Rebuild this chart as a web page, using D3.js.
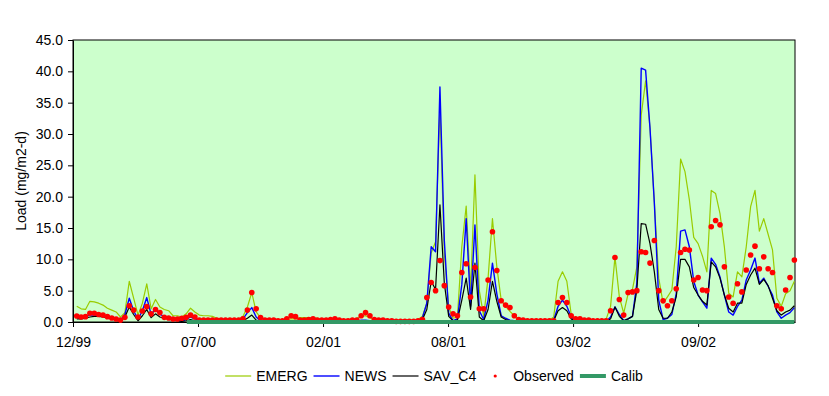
<!DOCTYPE html>
<html>
<head>
<meta charset="utf-8">
<script src="https://cdn.jsdelivr.net/npm/d3@7"></script>
<style>
  body { margin: 0; background: #fff; }
  text { font-family: "Liberation Sans", Arial, sans-serif; font-size: 14px; fill: #000; }
</style>
</head>
<body>
<div id="chart"></div>
<script>
// axis range and tick labels (mm/yy every 200 days)
let axisStart = "1999-12-31"
let axisDays = 1155
let tickDates = ["1999-12-31", "2000-07-18", "2001-02-03", "2001-08-22", "2002-03-10", "2002-09-26"]
let tickLabels = ["12/99", "07/00", "02/01", "08/01", "03/02", "09/02"]
let yTicks = [0, 5, 10, 15, 20, 25, 30, 35, 40, 45]

// weekly series, first week on this date
let firstWeek = "2000-01-06"

let emerg = [
  2.5, 2.1, 2.0, 3.3, 3.2, 3.0, 2.7, 2.2, 1.9, 1.6, 0.8, 1.5, 6.5, 3.8, 1.1, 3.0, 6.1, 2.1, 3.6, 2.4,
  2.0, 1.8, 1.0, 1.0, 0.8, 1.3, 2.2, 1.6, 1.1, 1.0, 1.0, 0.9, 0.6, 0.4, 0.4, 0.4, 0.4, 0.4, 0.9, 2.4,
  4.7, 1.6, 0.7, 0.5, 0.4, 0.4, 0.4, 0.4, 0.4, 0.5, 0.5, 0.7, 0.7, 0.7, 0.7, 0.6, 0.4, 0.4, 0.4, 0.4,
  0.4, 0.4, 0.4, 0.4, 0.6, 0.9, 1.0, 0.7, 0.4, 0.3, 0.3, 0.3, 0.3, 0.3, 0.3, 0.3, 0.3, 0.3, 0.4, 0.9,
  3.0, 11.0, 12.8, 34.4, 11.0, 2.4, 0.6, 0.8, 12.0, 18.5, 5.0, 23.5, 5.0, 0.9, 7.0, 16.5, 8.8, 3.5, 2.5, 1.7,
  1.0, 0.5, 0.3, 0.3, 0.3, 0.3, 0.3, 0.3, 0.3, 0.8, 6.5, 8.0, 6.5, 1.2, 0.3, 0.3, 0.3, 0.3, 0.3, 0.3,
  0.3, 0.5, 2.5, 10.4, 4.0, 1.4, 4.5, 5.2, 8.8, 33.0, 38.5, 31.0, 19.0, 7.0, 3.0, 4.0, 5.1, 12.0, 26.0, 24.0,
  19.5, 13.5, 12.5, 10.5, 8.0, 21.0, 20.5, 17.3, 12.0, 4.6, 4.0, 8.0, 7.2, 12.0, 18.4, 21.0, 14.5, 16.5, 14.0, 11.5,
  3.8, 2.5, 4.5, 5.0, 6.5
]

let news = [
  0.8, 0.8, 0.9, 1.1, 1.1, 1.1, 1.0, 0.9, 0.7, 0.5, 0.3, 1.2, 3.8, 1.8, 0.4, 1.8, 3.9, 1.2, 2.1, 1.2,
  0.9, 0.8, 0.5, 0.3, 0.2, 0.4, 0.8, 0.5, 0.3, 0.2, 0.2, 0.15, 0.1, 0.1, 0.1, 0.1, 0.1, 0.1, 0.5, 1.5,
  2.3, 0.8, 0.2, 0.1, 0.1, 0.1, 0.1, 0.1, 0.1, 0.1, 0.1, 0.1, 0.1, 0.1, 0.1, 0.1, 0.1, 0.1, 0.1, 0.1,
  0.1, 0.1, 0.1, 0.1, 0.1, 0.3, 0.3, 0.2, 0.1, 0.1, 0.1, 0.1, 0.1, 0.1, 0.1, 0.1, 0.1, 0.1, 0.1, 0.7,
  3.0, 12.0, 11.2, 37.5, 13.0, 1.4, 0.2, 0.5, 6.0, 16.5, 2.5, 15.5, 1.8, 0.4, 3.5, 9.4, 4.5, 1.0, 0.6, 0.3,
  0.2, 0.1, 0.1, 0.1, 0.1, 0.1, 0.1, 0.1, 0.1, 0.3, 2.5, 3.5, 2.5, 0.8, 0.2, 0.1, 0.1, 0.1, 0.1, 0.1,
  0.1, 0.1, 0.8, 2.4, 1.2, 0.2, 0.5, 0.9, 6.2, 40.5, 40.2, 31.0, 19.0, 3.5, 0.4, 0.6, 1.2, 4.5, 14.5, 14.7,
  12.0, 6.5, 4.3, 3.2, 2.2, 10.2, 9.2, 7.2, 4.3, 1.6, 1.1, 2.5, 3.5, 6.7, 8.3, 10.2, 6.2, 7.0, 5.7, 4.3,
  1.6, 0.6, 1.1, 1.5, 2.3
]

let savC4 = [
  0.5, 0.5, 0.6, 0.8, 0.9, 0.9, 0.8, 0.7, 0.5, 0.3, 0.1, 0.8, 2.4, 1.2, 0.2, 1.0, 2.0, 0.7, 1.3, 0.8,
  0.6, 0.5, 0.3, 0.2, 0.1, 0.2, 0.4, 0.2, 0.1, 0.1, 0.05, 0.05, 0.05, 0.05, 0.05, 0.05, 0.05, 0.05, 0.2, 0.6,
  1.1, 0.3, 0.05, 0.05, 0.05, 0.05, 0.05, 0.05, 0.05, 0.05, 0.05, 0.05, 0.05, 0.05, 0.05, 0.05, 0.05, 0.05, 0.05, 0.05,
  0.05, 0.05, 0.05, 0.05, 0.05, 0.05, 0.05, 0.05, 0.05, 0.05, 0.05, 0.05, 0.05, 0.05, 0.05, 0.05, 0.05, 0.05, 0.05, 0.4,
  2.0, 6.5, 5.2, 18.7, 6.2, 0.9, 0.2, 0.3, 3.5, 7.0, 2.0, 9.4, 0.8, 0.2, 2.0, 6.5, 3.3, 0.8, 0.4, 0.2,
  0.1, 0.05, 0.05, 0.05, 0.05, 0.05, 0.05, 0.05, 0.05, 0.2, 1.8, 2.3, 1.8, 0.5, 0.1, 0.05, 0.05, 0.05, 0.05, 0.05,
  0.05, 0.05, 0.5, 2.4, 0.9, 0.2, 0.5, 0.9, 5.1, 15.7, 15.6, 12.5, 8.0, 2.0, 0.6, 0.6, 1.6, 4.0, 10.0, 10.0,
  8.8, 5.5, 4.3, 3.3, 2.7, 9.6, 8.8, 7.0, 4.3, 2.2, 1.6, 3.0, 3.0, 6.0, 7.5, 8.6, 6.0, 6.8, 5.8, 3.8,
  1.8, 1.1, 1.6, 1.9, 2.6
]

let observed = [
  0.96, 0.8, 0.85, 1.4, 1.4, 1.2, 1.1, 0.85, 0.64, 0.48, 0.3, 0.74, 2.6, 1.9, 0.8, 1.75, 2.45, 1.3, 2.0, 1.5,
  0.74, 0.64, 0.48, 0.48, 0.6, 0.74, 1.1, 0.8, 0.3, 0.3, 0.3, 0.3, 0.3, 0.3, 0.3, 0.3, 0.3, 0.3, 0.5, 1.9,
  4.7, 2.1, 0.7, 0.3, 0.3, 0.3, 0.2, 0.2, 0.5, 1.0, 0.85, 0.3, 0.3, 0.4, 0.5, 0.3, 0.3, 0.3, 0.4, 0.5,
  0.3, 0.2, 0.2, 0.3, 0.3, 1.0, 1.5, 1.0, 0.4, 0.3, 0.3, 0.2, 0.2, 0.1, 0.1, 0.1, 0.1, 0.1, 0.2, 0.4,
  3.9, 6.3, 5.0, 9.8, 5.8, 2.4, 1.3, 1.0, 7.9, 9.3, 4.0, 8.7, 2.1, 2.1, 6.7, 14.4, 8.2, 3.4, 2.7, 2.3,
  1.0, 0.4, 0.3, 0.2, 0.2, 0.2, 0.2, 0.2, 0.2, 0.2, 3.1, 3.9, 3.1, 1.0, 0.5, 0.5, 0.3, 0.3, 0.2, 0.2,
  0.2, 0.2, 1.8, 10.3, 3.6, 1.1, 4.7, 4.8, 5.0, 11.2, 11.1, 9.4, 13.0, 5.0, 3.4, 2.6, 3.4, 5.3, 11.1, 11.6,
  11.5, 6.7, 7.1, 5.1, 5.0, 15.2, 16.2, 15.5, 8.8, 4.0, 3.0, 6.1, 4.8, 8.3, 10.7, 12.1, 8.5, 10.4, 8.5, 7.9,
  2.6, 2.1, 5.1, 7.1, 9.9
]

// calibration period, drawn at zero
let calibDates = ["2000-06-30", "2003-02-27"]
let calibValues = [0, 0]

let width = 829,
    height = 396,
    margin = { top: 40, right: 34, bottom: 74, left: 73 }

let parse = d3.timeParse("%Y-%m-%d")
let start = parse(axisStart)
let first = parse(firstWeek)
let weekDate = i => d3.timeDay.offset(first, 7 * i)

let svg = d3.select("#chart").append("svg")
  .attr("width", width)
  .attr("height", height)

let x = d3.scaleTime()
  .domain([start, d3.timeDay.offset(start, axisDays)])
  .range([margin.left, width - margin.right])

let y = d3.scaleLinear()
  .domain([0, 45])
  .range([height - margin.bottom, margin.top])

// plot area
svg.append("rect")
  .attr("x", margin.left)
  .attr("y", margin.top)
  .attr("width", width - margin.left - margin.right)
  .attr("height", height - margin.top - margin.bottom)
  .attr("fill", "#CCFFCC")
  .attr("stroke", "#000")
  .attr("stroke-width", 1)

// axes
let yAxis = svg.append("g")
  .attr("transform", `translate(${margin.left},0)`)
  .call(d3.axisLeft(y).tickValues(yTicks).tickFormat(d3.format(".1f"))
    .tickSize(5).tickSizeOuter(0).tickPadding(5))
let xAxis = svg.append("g")
  .attr("transform", `translate(0,${height - margin.bottom})`)
  .call(d3.axisBottom(x).tickValues(tickDates.map(parse))
    .tickFormat((d, i) => tickLabels[i])
    .tickSize(5).tickSizeOuter(0).tickPadding(10))
svg.selectAll(".domain, .tick line").attr("stroke", "#000")
svg.selectAll(".tick text")
  .style("font-family", "'Liberation Sans', Arial, sans-serif")
  .style("font-size", "14px")
  .attr("fill", "#000")

svg.append("text")
  .attr("transform", `translate(26,${(margin.top + height - margin.bottom) / 2}) rotate(-90)`)
  .attr("text-anchor", "middle")
  .text("Load (mg/m2-d)")

// model lines
let line = d3.line()
  .x((d, i) => x(weekDate(i)))
  .y(d => y(d))

let series = [
  { name: "EMERG", values: emerg, color: "#99CC00", w: 1.2 },
  { name: "NEWS", values: news, color: "#0000FF", w: 1.4 },
  { name: "SAV_C4", values: savC4, color: "#000000", w: 1.2 }
]

series.forEach(s => {
  svg.append("path")
    .datum(s.values)
    .attr("fill", "none")
    .attr("stroke", s.color)
    .attr("stroke-width", s.w)
    .attr("stroke-linejoin", "round")
    .attr("d", line)
})

// observed points
svg.append("g").selectAll("circle")
  .data(observed)
  .enter().append("circle")
  .attr("cx", (d, i) => x(weekDate(i)))
  .attr("cy", d => y(d))
  .attr("r", 2.8)
  .attr("fill", "#FF0000")

// calibration band
svg.append("path")
  .datum(calibDates.map((d, i) => [parse(d), calibValues[i]]))
  .attr("fill", "none")
  .attr("stroke", "#339966")
  .attr("stroke-width", 4)
  .attr("d", d3.line().x(d => x(d[0])).y(d => y(d[1])))

// legend, centred under the plot
let legendItems = [
  { name: "EMERG", type: "line", color: "#99CC00", w: 1.2 },
  { name: "NEWS", type: "line", color: "#0000FF", w: 1.4 },
  { name: "SAV_C4", type: "line", color: "#000000", w: 1.2 },
  { name: "Observed", type: "dot", color: "#FF0000" },
  { name: "Calib", type: "line", color: "#339966", w: 4 }
]
let legend = svg.append("g")
let lx = 0, ly = 376
legendItems.forEach(item => {
  let g = legend.append("g").attr("transform", `translate(${lx},0)`)
  if (item.type === "line") {
    g.append("line")
      .attr("x1", 0).attr("x2", 26)
      .attr("y1", ly).attr("y2", ly)
      .attr("stroke", item.color)
      .attr("stroke-width", item.w)
  } else {
    g.append("circle")
      .attr("cx", 13).attr("cy", ly)
      .attr("r", 1.6)
      .attr("fill", item.color)
  }
  let t = g.append("text")
    .attr("x", item.type === "dot" ? 31 : 31)
    .attr("y", ly)
    .attr("dy", "0.35em")
    .text(item.name)
  lx += 31 + t.node().getComputedTextLength() + 6
})
let legendW = lx - 6
let plotMid = (margin.left + width - margin.right) / 2
legend.attr("transform", `translate(${plotMid - legendW / 2},0)`)
</script>
</body>
</html>
